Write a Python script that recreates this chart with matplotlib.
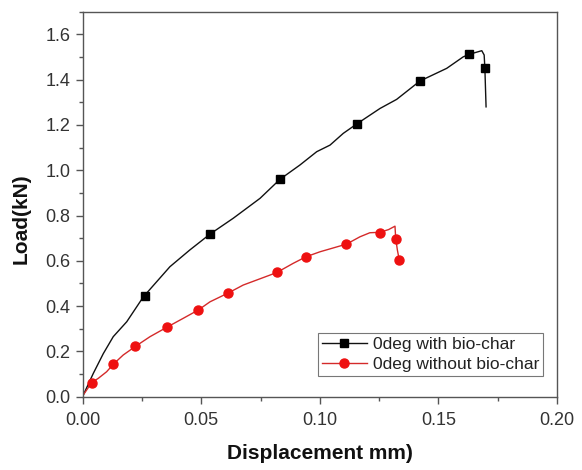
import matplotlib
matplotlib.use('Agg')
import matplotlib.pyplot as plt
from matplotlib.ticker import MultipleLocator, FormatStrFormatter

plt.rcParams['font.family'] = ['Liberation Sans', 'DejaVu Sans']

# with bio-char: traced curve and marker points
x_bio = [0.0, 0.0003, 0.0045, 0.0087, 0.0129, 0.0186, 0.0256, 0.0368, 0.0452,
         0.0537, 0.0635, 0.0748, 0.0832, 0.0916, 0.0987, 0.1043, 0.1099, 0.1155,
         0.1254, 0.1324, 0.1422, 0.1535, 0.1605, 0.1633, 0.1683, 0.1693, 0.1696, 0.1701]
y_bio = [0.0, 0.008, 0.103, 0.19, 0.265, 0.331, 0.441, 0.574, 0.648,
         0.718, 0.788, 0.876, 0.960, 1.023, 1.082, 1.111, 1.163, 1.204,
         1.273, 1.313, 1.394, 1.450, 1.501, 1.513, 1.528, 1.509, 1.450, 1.280]
xm_bio = [0.0261, 0.0537, 0.0834, 0.1155, 0.1422, 0.1631, 0.1695]
ym_bio = [0.444, 0.719, 0.961, 1.204, 1.395, 1.513, 1.452]

# without bio-char
x_nobio = [0.0, 0.0003, 0.0038, 0.0066, 0.0101, 0.0129, 0.0171, 0.0221, 0.0284,
           0.0354, 0.0424, 0.0488, 0.0537, 0.0614, 0.0677, 0.0818, 0.0888, 0.0942,
           0.1001, 0.1113, 0.1169, 0.1211, 0.1254, 0.1290, 0.1317, 0.1320, 0.1327, 0.1335]
y_nobio = [0.0, 0.008, 0.062, 0.081, 0.110, 0.143, 0.184, 0.221, 0.265,
           0.306, 0.346, 0.383, 0.419, 0.458, 0.493, 0.548, 0.589, 0.618,
           0.640, 0.674, 0.706, 0.724, 0.726, 0.738, 0.753, 0.699, 0.648, 0.604]
xm_nobio = [0.0038, 0.0129, 0.0221, 0.0354, 0.0488, 0.0614, 0.0818, 0.0942,
            0.1111, 0.1254, 0.1320, 0.1336]
ym_nobio = [0.062, 0.145, 0.222, 0.307, 0.383, 0.458, 0.549, 0.619,
            0.675, 0.725, 0.698, 0.603]

labels = ['0deg with bio-char', '0deg without bio-char']

fig = plt.figure(figsize=(5.82, 4.70), dpi=100)
ax = fig.add_axes([0.142, 0.156, 0.815, 0.819])

ax.plot(x_bio, y_bio, color='#111111', lw=1.0)
ax.plot(xm_bio, ym_bio, 's', color='black', ms=5.5, ls='none')
ax.plot(x_nobio, y_nobio, color='#d42a2a', lw=1.0)
ax.plot(xm_nobio, ym_nobio, 'o', color='#ee1111', ms=6.5, ls='none')

# proxies for the legend
h1, = ax.plot([], [], color='#111111', lw=1.0, marker='s', ms=5.5, mfc='black', mec='black')
h2, = ax.plot([], [], color='#d42a2a', lw=1.0, marker='o', ms=6.5, mfc='#ee1111', mec='#ee1111')
leg = ax.legend([h1, h2], labels, loc='lower right', bbox_to_anchor=(0.970, 0.054),
                borderaxespad=0, fontsize=12.5, frameon=True, fancybox=False,
                edgecolor='#777777', framealpha=1, handlelength=2.6, handletextpad=0.35,
                labelspacing=0.3, borderpad=0.2)
leg.get_frame().set_linewidth(0.8)
for t in leg.get_texts():
    t.set_color('#222222')

ax.set_xlim(0, 0.2)
ax.set_ylim(0, 1.7)
ax.xaxis.set_major_locator(MultipleLocator(0.05))
ax.xaxis.set_minor_locator(MultipleLocator(0.025))
ax.yaxis.set_major_locator(MultipleLocator(0.2))
ax.yaxis.set_minor_locator(MultipleLocator(0.1))
ax.xaxis.set_major_formatter(FormatStrFormatter('%.2f'))
ax.yaxis.set_major_formatter(FormatStrFormatter('%.1f'))

for s in ax.spines.values():
    s.set_color('#555555')
    s.set_linewidth(1.0)
ax.tick_params(which='both', direction='out', top=False, right=False,
               color='#555555', width=1.0, labelsize=13, labelcolor='#333333')
ax.tick_params(which='major', length=5)
ax.tick_params(axis='x', which='major', pad=6)
ax.tick_params(axis='y', which='major', pad=4)
ax.tick_params(which='minor', length=3)

ax.set_xlabel('Displacement mm)', fontsize=15, fontweight='bold', color='#111111')
ax.set_ylabel('Load(kN)', fontsize=15, fontweight='bold', color='#111111')
ax.xaxis.set_label_coords(0.5, -0.122)
ax.yaxis.set_label_coords(-0.11, 0.463)

fig.savefig('out.png', dpi=100)
